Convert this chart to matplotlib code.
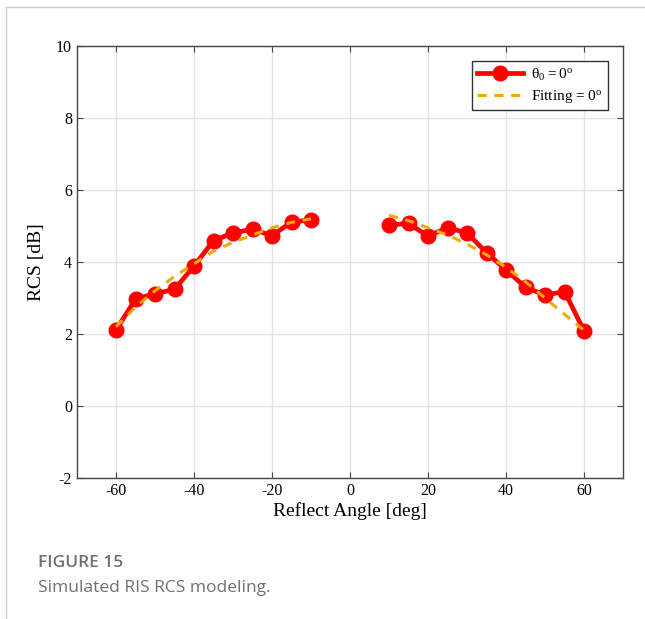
import numpy as np
import matplotlib.pyplot as plt
from matplotlib.lines import Line2D

plt.rcParams['axes.unicode_minus'] = False

# datos
ang_izq = [-60, -55, -50, -45, -40, -35, -30, -25, -20, -15, -10]
rcs_izq = [2.11, 2.97, 3.12, 3.24, 3.89, 4.59, 4.81, 4.91, 4.73, 5.11, 5.17]
ang_der = [10, 15, 20, 25, 30, 35, 40, 45, 50, 55, 60]
rcs_der = [5.03, 5.07, 4.72, 4.95, 4.81, 4.26, 3.78, 3.30, 3.08, 3.18, 2.09]

fit_izq = [2.2, 2.75, 3.2, 3.6, 3.95, 4.3, 4.55, 4.75, 4.95, 5.1, 5.2]
fit_der = [5.3, 5.15, 4.95, 4.75, 4.5, 4.2, 3.85, 3.45, 3.0, 2.55, 2.1]

xticks = [-60, -40, -20, 0, 20, 40, 60]
yticks = [-2, 0, 2, 4, 6, 8, 10]

serif = ['Liberation Serif', 'DejaVu Serif']

fig = plt.figure(figsize=(6.45, 6.19), dpi=100)
ax = fig.add_axes([77/645, 1-478/619, (623-77)/645, (478-46)/619])

rojo = '#ff0000'
naranja = '#f5a800'
for xs, ys, lab in [(ang_izq, rcs_izq, r'$\mathregular{\theta_0 = 0^o}$'), (ang_der, rcs_der, None)]:
    ax.plot(xs, ys, '-o', color=rojo, lw=3.4, markersize=10.5, label=lab, zorder=3)
for xs, ys, lab in [(ang_izq, fit_izq, r'Fitting = 0$\mathregular{^o}$'), (ang_der, fit_der, None)]:
    ax.plot(xs, ys, '--', color=naranja, lw=2.2, dashes=(3, 2.5), label=lab, zorder=4)

ax.set_xlim(-70, 70)
ax.set_ylim(-2, 10)
ax.set_xticks(xticks)
ax.set_yticks(yticks)
ax.grid(True, color='#e3e3e3', lw=1)
ax.set_axisbelow(True)
ax.tick_params(direction='in', length=4, color='#444444', labelsize=11.5,
               top=True, right=True)
for lbl in ax.get_xticklabels() + ax.get_yticklabels():
    lbl.set_family(serif)
for s in ax.spines.values():
    s.set_color('#444444')
    s.set_linewidth(1)

ax.set_xlabel('Reflect Angle [deg]', family=serif, fontsize=14, labelpad=2)
ax.set_ylabel('RCS [dB]', family=serif, fontsize=14, labelpad=8)

leg = ax.legend(loc='upper right', prop={'family': serif, 'size': 11}, fancybox=False,
                edgecolor='#333333', framealpha=1, handlelength=3.0, borderaxespad=1.0,
                labelspacing=0.35, borderpad=0.35, handletextpad=0.5)
leg.get_frame().set_linewidth(1)

# marco de la pagina y pie de figura
fig.add_artist(Line2D([6/645, 1], [1-7/619, 1-7/619], color='#cccccc', lw=1))
fig.add_artist(Line2D([6/645, 6/645], [0, 1-7/619], color='#cccccc', lw=1))
fig.text(38/645, 1-563/619, 'FIGURE 15', fontsize=12.5, weight='semibold', color='#707070',
         family=['Open Sans', 'DejaVu Sans'], va='center')
fig.text(38/645, 1-588/619, 'Simulated RIS RCS modeling.', fontsize=12.5, color='#707070',
         family=['Open Sans', 'DejaVu Sans'], va='center')

fig.savefig('out.png', dpi=100)
